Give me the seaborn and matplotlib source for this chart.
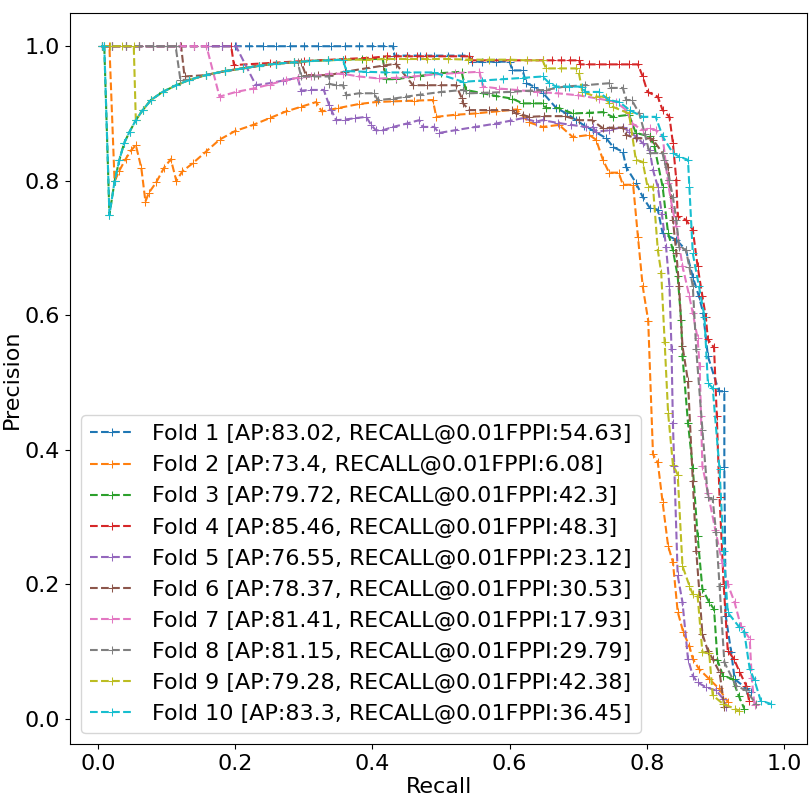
import pandas as pd
import seaborn as sns
import matplotlib
matplotlib.use('Agg')
import matplotlib.pyplot as plt

labels = ['Fold 1 [AP:83.02, RECALL@0.01FPPI:54.63]',
          'Fold 2 [AP:73.4, RECALL@0.01FPPI:6.08]',
          'Fold 3 [AP:79.72, RECALL@0.01FPPI:42.3]',
          'Fold 4 [AP:85.46, RECALL@0.01FPPI:48.3]',
          'Fold 5 [AP:76.55, RECALL@0.01FPPI:23.12]',
          'Fold 6 [AP:78.37, RECALL@0.01FPPI:30.53]',
          'Fold 7 [AP:81.41, RECALL@0.01FPPI:17.93]',
          'Fold 8 [AP:81.15, RECALL@0.01FPPI:29.79]',
          'Fold 9 [AP:79.28, RECALL@0.01FPPI:42.38]',
          'Fold 10 [AP:83.3, RECALL@0.01FPPI:36.45]']

# (recall, precision)
fold1 = [(0.005, 1.0), (0.02, 1.0), (0.04, 1.0), (0.06, 1.0), (0.08, 1.0), (0.10, 1.0),
         (0.12, 1.0), (0.14, 1.0), (0.16, 1.0), (0.18, 1.0), (0.20, 1.0), (0.22, 1.0),
         (0.24, 1.0), (0.26, 1.0), (0.28, 1.0), (0.30, 1.0), (0.32, 1.0), (0.34, 1.0),
         (0.36, 1.0), (0.38, 1.0), (0.40, 1.0), (0.415, 1.0), (0.43, 1.0),
         (0.432, 0.986), (0.45, 0.986), (0.47, 0.986), (0.49, 0.986), (0.51, 0.986),
         (0.53, 0.986), (0.541, 0.986), (0.545, 0.977), (0.56, 0.977), (0.58, 0.977),
         (0.60, 0.977), (0.604, 0.964), (0.619, 0.964), (0.624, 0.945), (0.636, 0.940),
         (0.649, 0.930), (0.668, 0.908), (0.683, 0.900), (0.697, 0.890), (0.709, 0.882),
         (0.721, 0.875), (0.741, 0.863), (0.751, 0.850), (0.765, 0.843), (0.770, 0.820),
         (0.784, 0.797), (0.794, 0.776), (0.804, 0.760), (0.816, 0.757), (0.823, 0.722),
         (0.843, 0.712), (0.857, 0.697), (0.867, 0.657), (0.876, 0.628), (0.882, 0.604),
         (0.889, 0.539), (0.905, 0.487), (0.913, 0.487), (0.913, 0.375), (0.915, 0.153),
         (0.923, 0.099), (0.928, 0.059), (0.945, 0.045), (0.952, 0.040)]

fold2 = [(0.005, 1.0), (0.0165, 1.0), (0.024, 0.799), (0.031, 0.815), (0.040, 0.832),
         (0.048, 0.845), (0.055, 0.853), (0.063, 0.819), (0.069, 0.769), (0.074, 0.782),
         (0.085, 0.798), (0.096, 0.819), (0.106, 0.832), (0.114, 0.800), (0.123, 0.814),
         (0.138, 0.826), (0.157, 0.843), (0.177, 0.861), (0.20, 0.874), (0.226, 0.883),
         (0.25, 0.893), (0.274, 0.903), (0.296, 0.910), (0.318, 0.917), (0.326, 0.903),
         (0.35, 0.908), (0.38, 0.914), (0.405, 0.917), (0.43, 0.918), (0.46, 0.919),
         (0.488, 0.920), (0.493, 0.895), (0.52, 0.898), (0.55, 0.900), (0.58, 0.903),
         (0.61, 0.906), (0.628, 0.887), (0.648, 0.880), (0.672, 0.883), (0.692, 0.865),
         (0.716, 0.868), (0.726, 0.861), (0.736, 0.831), (0.745, 0.812), (0.759, 0.812),
         (0.765, 0.794), (0.780, 0.794), (0.787, 0.717), (0.794, 0.643), (0.802, 0.592),
         (0.809, 0.393), (0.816, 0.381), (0.823, 0.322), (0.831, 0.257), (0.838, 0.233),
         (0.845, 0.159), (0.853, 0.129), (0.862, 0.108), (0.867, 0.089), (0.876, 0.074),
         (0.891, 0.059), (0.905, 0.045), (0.918, 0.025)]

fold3 = [(0.009, 1.0), (0.0165, 0.749), (0.024, 0.799), (0.031, 0.831), (0.038, 0.856),
         (0.046, 0.873), (0.055, 0.890), (0.065, 0.905), (0.077, 0.920), (0.094, 0.932),
         (0.114, 0.942), (0.133, 0.950), (0.157, 0.957), (0.185, 0.963), (0.211, 0.967),
         (0.235, 0.971), (0.259, 0.974), (0.285, 0.976), (0.308, 0.978), (0.335, 0.979),
         (0.357, 0.980), (0.385, 0.981), (0.415, 0.981), (0.420, 0.951), (0.434, 0.951),
         (0.47, 0.956), (0.50, 0.960), (0.53, 0.962), (0.536, 0.935), (0.561, 0.930),
         (0.58, 0.926), (0.604, 0.922), (0.619, 0.915), (0.634, 0.915), (0.648, 0.915),
         (0.653, 0.908), (0.672, 0.908), (0.692, 0.900), (0.715, 0.901), (0.736, 0.902),
         (0.750, 0.895), (0.774, 0.898), (0.784, 0.871), (0.804, 0.866), (0.811, 0.851),
         (0.823, 0.791), (0.831, 0.722), (0.838, 0.697), (0.845, 0.658), (0.850, 0.593),
         (0.852, 0.539), (0.860, 0.440), (0.867, 0.373), (0.874, 0.272), (0.881, 0.193),
         (0.891, 0.173), (0.898, 0.163), (0.903, 0.087), (0.911, 0.064), (0.925, 0.059),
         (0.934, 0.034), (0.942, 0.015)]

fold4 = [(0.005, 1.0), (0.02, 1.0), (0.04, 1.0), (0.06, 1.0), (0.08, 1.0), (0.10, 1.0),
         (0.12, 1.0), (0.14, 1.0), (0.16, 1.0), (0.18, 1.0), (0.194, 1.0), (0.198, 0.972),
         (0.25, 0.975), (0.30, 0.978), (0.36, 0.981), (0.40, 0.983), (0.421, 0.985),
         (0.435, 0.985), (0.45, 0.985), (0.465, 0.985), (0.478, 0.985), (0.541, 0.985),
         (0.545, 0.979), (0.60, 0.979), (0.649, 0.979), (0.662, 0.979), (0.675, 0.979),
         (0.688, 0.979), (0.701, 0.979), (0.703, 0.973), (0.716, 0.973), (0.73, 0.973),
         (0.745, 0.973), (0.76, 0.973), (0.774, 0.973), (0.787, 0.973), (0.794, 0.955),
         (0.801, 0.932), (0.816, 0.925), (0.823, 0.905), (0.833, 0.895), (0.838, 0.856),
         (0.843, 0.801), (0.845, 0.747), (0.857, 0.742), (0.867, 0.727), (0.874, 0.673),
         (0.881, 0.628), (0.886, 0.598), (0.889, 0.564), (0.898, 0.552), (0.902, 0.45),
         (0.906, 0.33), (0.912, 0.20), (0.918, 0.101), (0.927, 0.089), (0.935, 0.070),
         (0.945, 0.049), (0.949, 0.027)]

fold5 = [(0.005, 1.0), (0.02, 1.0), (0.04, 1.0), (0.06, 1.0), (0.08, 1.0), (0.10, 1.0),
         (0.12, 1.0), (0.14, 1.0), (0.16, 1.0), (0.18, 1.0), (0.201, 1.0), (0.230, 0.942),
         (0.25, 0.945), (0.27, 0.949), (0.291, 0.953), (0.296, 0.934), (0.31, 0.935),
         (0.329, 0.935), (0.337, 0.912), (0.340, 0.905), (0.347, 0.890), (0.36, 0.891),
         (0.375, 0.893), (0.391, 0.895), (0.398, 0.883), (0.405, 0.875), (0.415, 0.875),
         (0.43, 0.880), (0.450, 0.885), (0.468, 0.890), (0.473, 0.880), (0.490, 0.880),
         (0.497, 0.871), (0.52, 0.875), (0.55, 0.880), (0.58, 0.885), (0.60, 0.889),
         (0.619, 0.893), (0.638, 0.888), (0.648, 0.890), (0.67, 0.886), (0.69, 0.883),
         (0.711, 0.880), (0.721, 0.880), (0.726, 0.873), (0.745, 0.875), (0.765, 0.880),
         (0.774, 0.873), (0.785, 0.865), (0.794, 0.856), (0.804, 0.846), (0.809, 0.816),
         (0.816, 0.791), (0.822, 0.750), (0.828, 0.702), (0.833, 0.643), (0.836, 0.550),
         (0.838, 0.440), (0.840, 0.376), (0.845, 0.213), (0.852, 0.173), (0.860, 0.089),
         (0.867, 0.064), (0.874, 0.054), (0.886, 0.047), (0.901, 0.042), (0.911, 0.030),
         (0.915, 0.018)]

fold6 = [(0.005, 1.0), (0.02, 1.0), (0.04, 1.0), (0.06, 1.0), (0.08, 1.0), (0.10, 1.0),
         (0.121, 1.0), (0.126, 0.955), (0.157, 0.957), (0.185, 0.963), (0.211, 0.967),
         (0.235, 0.971), (0.259, 0.974), (0.285, 0.976), (0.296, 0.976), (0.303, 0.957),
         (0.32, 0.957), (0.337, 0.957), (0.36, 0.962), (0.39, 0.967), (0.415, 0.971),
         (0.434, 0.974), (0.459, 0.942), (0.48, 0.942), (0.50, 0.942), (0.522, 0.942),
         (0.530, 0.923), (0.532, 0.915), (0.541, 0.905), (0.57, 0.905), (0.604, 0.905),
         (0.609, 0.900), (0.619, 0.898), (0.628, 0.895), (0.65, 0.896), (0.68, 0.896),
         (0.701, 0.890), (0.72, 0.890), (0.736, 0.878), (0.75, 0.879), (0.765, 0.879),
         (0.770, 0.868), (0.784, 0.863), (0.804, 0.863), (0.809, 0.861), (0.823, 0.841),
         (0.831, 0.821), (0.833, 0.801), (0.838, 0.742), (0.843, 0.693), (0.847, 0.643),
         (0.852, 0.554), (0.860, 0.502), (0.867, 0.354), (0.872, 0.250), (0.877, 0.183),
         (0.881, 0.126), (0.889, 0.101), (0.896, 0.089), (0.906, 0.069), (0.913, 0.018)]

fold7 = [(0.005, 1.0), (0.02, 1.0), (0.04, 1.0), (0.06, 1.0), (0.08, 1.0), (0.10, 1.0),
         (0.12, 1.0), (0.14, 1.0), (0.158, 1.0), (0.177, 0.925), (0.201, 0.932),
         (0.226, 0.937), (0.250, 0.943), (0.274, 0.950), (0.291, 0.953), (0.31, 0.955),
         (0.337, 0.959), (0.357, 0.959), (0.38, 0.955), (0.41, 0.952), (0.434, 0.953),
         (0.46, 0.955), (0.49, 0.958), (0.52, 0.960), (0.556, 0.962), (0.561, 0.940),
         (0.585, 0.937), (0.61, 0.935), (0.64, 0.932), (0.67, 0.930), (0.70, 0.927),
         (0.73, 0.922), (0.755, 0.917), (0.770, 0.905), (0.779, 0.885), (0.794, 0.875),
         (0.804, 0.878), (0.813, 0.875), (0.823, 0.866), (0.831, 0.796), (0.837, 0.760),
         (0.843, 0.732), (0.852, 0.673), (0.862, 0.628), (0.867, 0.603), (0.874, 0.566),
         (0.877, 0.524), (0.879, 0.450), (0.881, 0.376), (0.889, 0.336), (0.900, 0.280),
         (0.910, 0.232), (0.918, 0.200), (0.928, 0.173), (0.937, 0.138), (0.950, 0.119),
         (0.953, 0.060), (0.957, 0.020)]

fold8 = [(0.005, 1.0), (0.02, 1.0), (0.04, 1.0), (0.06, 1.0), (0.08, 1.0), (0.10, 1.0),
         (0.113, 1.0), (0.120, 0.950), (0.133, 0.950), (0.157, 0.957), (0.185, 0.963),
         (0.211, 0.967), (0.235, 0.971), (0.259, 0.974), (0.285, 0.976), (0.291, 0.976),
         (0.296, 0.955), (0.315, 0.955), (0.337, 0.955), (0.337, 0.944), (0.347, 0.942),
         (0.357, 0.942), (0.362, 0.927), (0.38, 0.930), (0.402, 0.930), (0.408, 0.920),
         (0.43, 0.922), (0.449, 0.925), (0.47, 0.928), (0.50, 0.932), (0.532, 0.935),
         (0.541, 0.930), (0.57, 0.931), (0.60, 0.932), (0.63, 0.934), (0.653, 0.935),
         (0.68, 0.940), (0.71, 0.942), (0.745, 0.945), (0.748, 0.938), (0.765, 0.938),
         (0.770, 0.920), (0.778, 0.920), (0.789, 0.900), (0.797, 0.870), (0.804, 0.841),
         (0.823, 0.841), (0.825, 0.831), (0.833, 0.801), (0.838, 0.776), (0.843, 0.742),
         (0.847, 0.702), (0.857, 0.697), (0.862, 0.672), (0.867, 0.643), (0.872, 0.550),
         (0.881, 0.430), (0.889, 0.329), (0.896, 0.326), (0.901, 0.277), (0.906, 0.198),
         (0.913, 0.084), (0.930, 0.049), (0.945, 0.042), (0.959, 0.022)]

fold9 = [(0.005, 1.0), (0.017, 1.0), (0.035, 1.0), (0.052, 1.0), (0.055, 0.890),
         (0.065, 0.905), (0.077, 0.920), (0.094, 0.932), (0.114, 0.942), (0.133, 0.950),
         (0.157, 0.957), (0.185, 0.963), (0.211, 0.967), (0.235, 0.971), (0.259, 0.974),
         (0.285, 0.976), (0.308, 0.978), (0.335, 0.979), (0.357, 0.980), (0.39, 0.980),
         (0.42, 0.981), (0.45, 0.981), (0.48, 0.981), (0.51, 0.981), (0.54, 0.980),
         (0.57, 0.980), (0.60, 0.980), (0.625, 0.979), (0.648, 0.979), (0.653, 0.967),
         (0.675, 0.967), (0.697, 0.967), (0.701, 0.960), (0.706, 0.932), (0.726, 0.925),
         (0.740, 0.925), (0.745, 0.915), (0.750, 0.910), (0.774, 0.900), (0.784, 0.831),
         (0.794, 0.828), (0.801, 0.791), (0.809, 0.791), (0.816, 0.697), (0.821, 0.663),
         (0.826, 0.560), (0.831, 0.455), (0.838, 0.378), (0.845, 0.363), (0.852, 0.227),
         (0.862, 0.198), (0.867, 0.185), (0.874, 0.183), (0.881, 0.099), (0.891, 0.097),
         (0.896, 0.035), (0.911, 0.022), (0.928, 0.015), (0.934, 0.012)]

fold10 = [(0.005, 1.0), (0.009, 1.0), (0.0165, 0.749), (0.024, 0.799), (0.031, 0.831),
          (0.038, 0.856), (0.046, 0.873), (0.055, 0.890), (0.065, 0.905), (0.077, 0.920),
          (0.094, 0.932), (0.114, 0.942), (0.133, 0.950), (0.157, 0.957), (0.185, 0.963),
          (0.211, 0.967), (0.235, 0.971), (0.259, 0.974), (0.285, 0.976), (0.308, 0.978),
          (0.335, 0.979), (0.357, 0.980), (0.362, 0.963), (0.39, 0.962), (0.42, 0.961),
          (0.45, 0.961), (0.49, 0.961), (0.532, 0.947), (0.56, 0.949), (0.59, 0.951),
          (0.62, 0.953), (0.648, 0.955), (0.658, 0.945), (0.668, 0.940), (0.687, 0.940),
          (0.706, 0.940), (0.710, 0.932), (0.73, 0.932), (0.745, 0.920), (0.760, 0.917),
          (0.775, 0.905), (0.794, 0.895), (0.813, 0.895), (0.823, 0.866), (0.838, 0.841),
          (0.847, 0.836), (0.860, 0.831), (0.862, 0.791), (0.867, 0.692), (0.876, 0.643),
          (0.884, 0.598), (0.889, 0.499), (0.896, 0.492), (0.906, 0.371), (0.912, 0.250),
          (0.918, 0.158), (0.935, 0.136), (0.942, 0.129), (0.950, 0.074), (0.957, 0.057),
          (0.966, 0.027), (0.981, 0.022)]

folds = [fold1, fold2, fold3, fold4, fold5, fold6, fold7, fold8, fold9, fold10]
colors = sns.color_palette('tab10', 10)

fig, ax = plt.subplots(figsize=(8.1, 7.99), dpi=100)
plt.subplots_adjust(left=0.0864, right=0.9967, bottom=0.0685, top=0.9834)

for pts, lab, col in zip(folds, labels, colors):
    df = pd.DataFrame(pts, columns=['recall', 'precision'])
    sns.lineplot(x='recall', y='precision', data=df, ax=ax, sort=False,
                 estimator=None, color=col, linestyle='--', marker='+',
                 markeredgecolor=col, markersize=6, label=lab)

ax.set_xlim(-0.041, 1.034)
ax.set_ylim(-0.038, 1.049)
ax.set_xlabel('Recall', fontsize=16, labelpad=2)
ax.set_ylabel('Precision', fontsize=16, labelpad=2)
ax.tick_params(labelsize=16)
ax.set_xticks([0.0, 0.2, 0.4, 0.6, 0.8, 1.0])
ax.set_yticks([0.0, 0.2, 0.4, 0.6, 0.8, 1.0])
ax.legend(loc='lower left', fontsize=16)

plt.savefig('out.png')
